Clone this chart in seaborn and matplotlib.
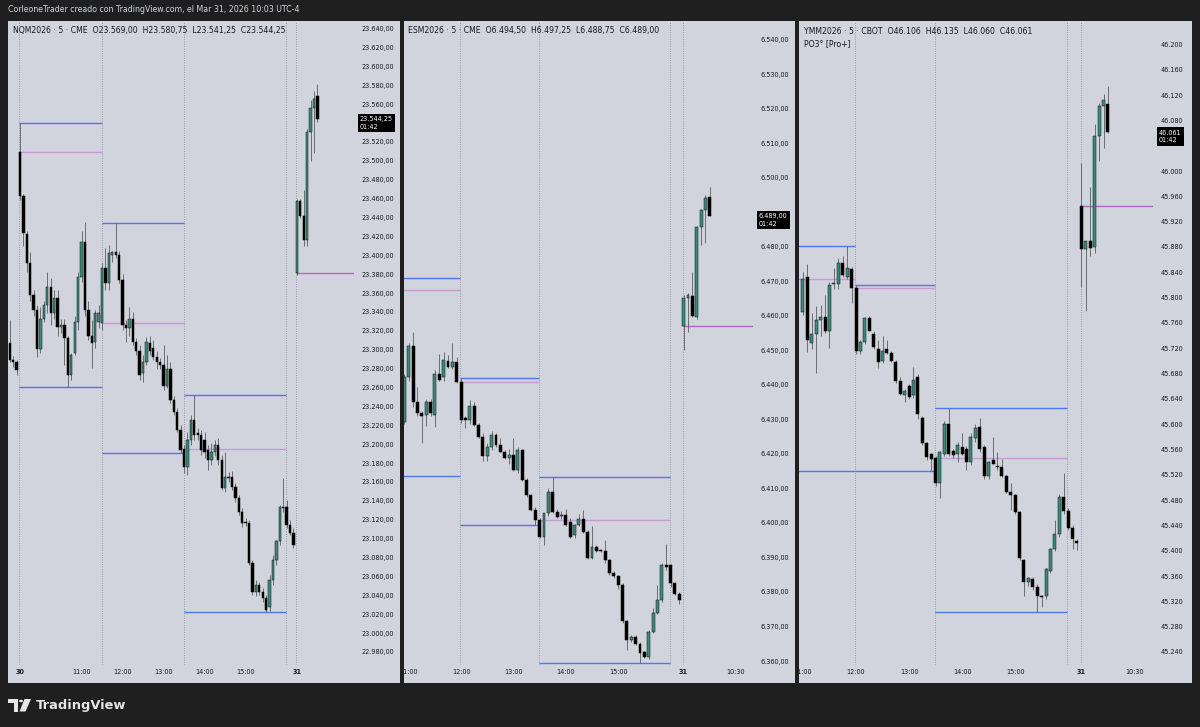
import numpy as np
import pandas as pd
import matplotlib
matplotlib.use("Agg")
import matplotlib.pyplot as plt
import matplotlib.transforms as mtransforms
from matplotlib.patches import Rectangle, Circle, Polygon
from matplotlib.ticker import FixedLocator, FuncFormatter
import seaborn as sns

# ---------------------------------------------------------------- data
# bar numbers: 0 = 09:30 bar of Mar 30, 81 = 09:30 bar of Mar 31 (5-minute bars, RTH)
header_text = "CorleoneTrader creado con TradingView.com, el Mar 31, 2026 10:03 UTC-4"
countdown = "01:42"

# ---- NQM2026
nq_symbol = "NQM2026 · 5 · CME"
nq_first_bar = -3
nq_open = [23307, 23289, 23287,
           23509, 23463, 23423, 23392, 23358, 23342, 23301, 23333, 23347, 23366, 23339, 23355,
           23324, 23326, 23312, 23273, 23297, 23329, 23377, 23414, 23342, 23315, 23308, 23329,
           23328, 23386, 23371, 23400, 23403, 23400, 23374, 23326, 23323, 23333, 23308, 23299,
           23275, 23287, 23307, 23302, 23292, 23287, 23284, 23262, 23280, 23247, 23234, 23215,
           23195, 23176, 23204, 23226, 23212, 23210, 23204, 23194, 23183, 23192, 23199, 23183,
           23154, 23165, 23165, 23155, 23143, 23128, 23118, 23116, 23074, 23044, 23051, 23044,
           23037, 23028, 23056, 23077, 23098, 23133, 23133, 23114, 23106,
           23381, 23457, 23442, 23416, 23530, 23556, 23569.00]
nq_high = [23331, 23293, 23289,
           23540, 23465, 23426, 23403, 23363, 23347, 23345, 23352, 23382, 23376, 23363, 23363,
           23333, 23333, 23315, 23297, 23336, 23382, 23426, 23435, 23352, 23331, 23342, 23347,
           23392, 23408, 23411, 23405, 23434, 23405, 23380, 23331, 23345, 23340, 23312, 23305,
           23294, 23313, 23314, 23310, 23299, 23291, 23305, 23294, 23287, 23251, 23238, 23220,
           23199, 23213, 23231, 23252, 23217, 23215, 23213, 23199, 23201, 23204, 23207, 23188,
           23192, 23170, 23172, 23159, 23146, 23132, 23122, 23120, 23077, 23056, 23054, 23048,
           23040, 23061, 23083, 23099, 23136, 23164, 23141, 23120, 23111,
           23460, 23460, 23469, 23534, 23564, 23574, 23580.75]
nq_low = [23287, 23282, 23273,
          23458, 23410, 23382, 23352, 23336, 23292, 23296, 23329, 23339, 23326, 23333, 23315,
          23318, 23284, 23260.25, 23268, 23294, 23321, 23372, 23336, 23310, 23281, 23302, 23323,
          23321, 23363, 23363, 23393, 23397, 23371, 23321, 23308, 23315, 23305, 23294, 23268,
          23266, 23284, 23294, 23289, 23280, 23280, 23257, 23259, 23244, 23231, 23213, 23191,
          23169, 23167, 23199, 23204, 23204, 23188, 23185, 23173, 23178, 23187, 23178, 23151,
          23149, 23160, 23151, 23139, 23125, 23112, 23113, 23072, 23040, 23039, 23040, 23033,
          23022.25, 23023, 23051, 23072, 23093, 23128, 23111, 23104, 23090,
          23379, 23439, 23410, 23410, 23500, 23508, 23541.25]
nq_close = [23289, 23287, 23278,
            23463, 23424, 23392, 23358, 23342, 23301, 23333, 23347, 23366, 23339, 23355, 23324,
            23326, 23312, 23273, 23294, 23329, 23377, 23414, 23342, 23315, 23307, 23339, 23339,
            23386, 23371, 23402, 23403, 23400, 23374, 23326, 23323, 23333, 23308, 23299, 23273,
            23287, 23308, 23299, 23292, 23287, 23284, 23262, 23280, 23247, 23234, 23215, 23194,
            23176, 23204, 23226, 23210, 23210, 23194, 23192, 23183, 23192, 23199, 23183, 23154,
            23165, 23164, 23155, 23143, 23128, 23116, 23116, 23074, 23044, 23051, 23044, 23037,
            23024, 23056, 23077, 23098, 23133, 23132, 23114, 23106, 23093,
            23457, 23442, 23416, 23530, 23556, 23565, 23544.25]
nq_range_from = [0, 24, 48]
nq_range_to = [24, 48, 78]
nq_range_high = [23540, 23434, 23252]
nq_range_open = [23509, 23328, 23195]
nq_range_low = [23260.25, 23191, 23022.25]
nq_day_open = 23381
nq_separators = [0, 24, 48, 78, 81]
nq_time_bars = [0, 18, 30, 42, 54, 66, 81]
nq_time_labels = ["30", "11:00", "12:00", "13:00", "14:00", "15:00", "31"]
nq_price_ticks = list(range(22980, 23641, 20))

# ---- ESM2026
es_symbol = "ESM2026 · 5 · CME"
es_first_bar = 17
es_open = [6429.25, 6442.25, 6451.25, 6435, 6431.75, 6431.25, 6435, 6431.25, 6443.25, 6442.25,
           6447, 6445.25, 6446.5, 6440.75, 6430.25, 6429.75, 6434, 6428.25, 6425, 6419.25,
           6422, 6425.5, 6422.5, 6420.5, 6418.75, 6419.75, 6415.25, 6421, 6412.5, 6408,
           6403.75, 6400.75, 6396, 6402.75, 6409, 6403.25, 6402, 6402.25, 6400.25, 6396.5,
           6399.5, 6401.25, 6397.5, 6389.75, 6393, 6392, 6392, 6389.25, 6385.5, 6384.5,
           6382, 6371.5, 6366, 6367, 6365, 6362.5, 6361.25, 6368.5, 6374, 6377.75,
           6387.75, 6387.75, 6382.5, 6379.5,
           6457, 6465, 6465.75, 6459.75, 6485.75, 6490.75, 6494.50]
es_high = [6443, 6452, 6455.25, 6439.5, 6432.5, 6436, 6436, 6444.25, 6449, 6449.5,
           6448.5, 6452, 6448, 6442, 6431, 6435.5, 6435, 6429, 6426, 6423,
           6426.5, 6426, 6424.5, 6421, 6421.5, 6424.5, 6422, 6421.5, 6413, 6408.5,
           6404.5, 6401.5, 6403, 6410, 6413.25, 6404, 6403.5, 6404, 6401.5, 6399.75,
           6402.5, 6403.75, 6398, 6399, 6393.5, 6392.5, 6395, 6389.5, 6386, 6385,
           6382.5, 6372, 6367.5, 6367.5, 6365.5, 6363, 6369, 6375.5, 6382, 6388.5,
           6394, 6388, 6383, 6380,
           6466, 6466.5, 6472.75, 6486, 6491, 6495, 6497.25]
es_low = [6428.5, 6441, 6433.5, 6431, 6423, 6428, 6431, 6427.75, 6441, 6441,
          6445, 6444.5, 6440.5, 6429, 6427.5, 6428.5, 6428, 6424.5, 6418, 6418,
          6421, 6422, 6420.5, 6418.5, 6417, 6415, 6414.5, 6412, 6407.5, 6403.5,
          6399.25, 6395.5, 6393.5, 6402, 6403, 6401.5, 6401, 6399, 6395.5, 6395.5,
          6399, 6397, 6389.5, 6389.5, 6391.5, 6391.5, 6388.5, 6385, 6384, 6381,
          6371, 6363.25, 6365.5, 6364.5, 6359.5, 6361, 6360.5, 6368, 6373.5, 6377,
          6386.5, 6381.5, 6379, 6376.5,
          6450, 6455.25, 6459.5, 6459, 6480.5, 6481, 6488.75]
es_close = [6442.25, 6451.25, 6435, 6431.75, 6431, 6435, 6431.75, 6443, 6441.25, 6447.25,
            6445.25, 6446.5, 6440.75, 6429.75, 6429.75, 6434, 6428.25, 6425, 6419.25, 6422,
            6425.5, 6422.5, 6420.5, 6418.75, 6419.75, 6415.25, 6421, 6412.5, 6408, 6403.75,
            6400.75, 6396, 6402.75, 6409, 6403.25, 6401.75, 6402.25, 6399.5, 6396, 6399.5,
            6401.25, 6397.5, 6389.75, 6393, 6392, 6391.75, 6389.25, 6385.5, 6384.5, 6382,
            6371.5, 6366, 6367, 6365, 6362.25, 6361.25, 6368.5, 6374, 6377.75, 6387.75,
            6387.25, 6382.5, 6379.5, 6377.75,
            6465, 6466, 6460, 6485.75, 6490.75, 6494, 6489.00]
es_range_from = [0, 30, 48]
es_range_to = [30, 48, 78]
es_range_high = [6471, 6442, 6413.25]
es_range_open = [6467.5, 6440.75, 6400.75]
es_range_low = [6413.5, 6399.25, 6359.5]
es_day_open = 6457
es_separators = [30, 48, 78, 81]
es_time_bars = [18, 30, 42, 54, 66, 81, 93]
es_time_labels = ["11:00", "12:00", "13:00", "14:00", "15:00", "31", "10:30"]
es_price_ticks = list(range(6360, 6541, 10))

# ---- YMM2026
ym_symbol = "YMM2026 · 5 · CBOT"
ym_first_bar = 18
ym_open = [45778, 45832, 45729, 45742, 45764, 45769, 45748, 45821, 45822, 45855,
           45833, 45845, 45815, 45716, 45730, 45768, 45743, 45719, 45700, 45719,
           45713, 45698, 45668, 45646, 45660, 45646, 45675, 45610, 45570, 45553,
           45547, 45507, 45553, 45600, 45557, 45553, 45564, 45561, 45540, 45578,
           45596, 45564, 45518, 45543, 45533, 45533, 45518, 45493, 45488, 45461,
           45385, 45350, 45355, 45343, 45328, 45328, 45368, 45403, 45427, 45485,
           45463, 45436, 45416,
           45945, 45877, 45889, 45880, 46056, 46103, 46106]
ym_high = [45841, 45853, 45776, 45787, 45788, 45804, 45825, 45846, 45863, 45865,
           45881, 45849, 45820, 45733, 45770, 45771, 45747, 45733, 45740, 45733,
           45716, 45701, 45675, 45656, 45663, 45691, 45680, 45613, 45572, 45555,
           45549, 45557, 45605, 45626, 45561, 45572, 45586, 45566, 45586, 45600,
           45610, 45567, 45541, 45580, 45556, 45545, 45520, 45507, 45490, 45463,
           45387, 45358, 45358, 45347, 45330, 45373, 45404, 45448, 45489, 45523,
           45468, 45440, 45418,
           46013, 45890, 45975, 46075, 46107, 46121, 46135]
ym_low = [45773, 45714, 45718, 45681, 45739, 45744, 45721, 45814, 45813, 45833,
          45830, 45791, 45711, 45711, 45727, 45747, 45719, 45689, 45696, 45711,
          45698, 45665, 45646, 45635, 45639, 45642, 45608, 45567, 45543, 45526,
          45502, 45483, 45549, 45549, 45546, 45540, 45551, 45528, 45535, 45572,
          45556, 45513, 45513, 45537, 45528, 45516, 45492, 45464, 45458, 45385,
          45328, 45345, 45338, 45303, 45311, 45324, 45365, 45400, 45422, 45458,
          45432, 45403, 45401,
          45817, 45779, 45866, 45871, 46016, 46037, 46060]
ym_close = [45829, 45733, 45742, 45764, 45769, 45748, 45820, 45822, 45855, 45836,
            45846, 45815, 45716, 45730, 45768, 45748, 45722, 45698, 45716, 45713,
            45700, 45668, 45648, 45653, 45643, 45670, 45616, 45570, 45548, 45545,
            45507, 45556, 45600, 45553, 45551, 45567, 45553, 45540, 45580, 45594,
            45561, 45518, 45540, 45537, 45532, 45518, 45493, 45488, 45461, 45388,
            45350, 45357, 45343, 45328, 45327, 45371, 45403, 45427, 45485, 45463,
            45436, 45418, 45412,
            45877, 45890, 45878, 46056, 46103, 46112, 46061]
ym_range_from = [0, 30, 48]
ym_range_to = [30, 48, 78]
ym_range_high = [45881, 45820, 45626]
ym_range_open = [45829, 45815, 45547]
ym_range_low = [45526, 45526, 45303]
ym_day_open = 45945
ym_separators = [30, 48, 78, 81]
ym_time_bars = [18, 30, 42, 54, 66, 81, 93]
ym_time_labels = ["11:00", "12:00", "13:00", "14:00", "15:00", "31", "10:30"]
ym_price_ticks = list(range(45240, 46201, 40))

# ---------------------------------------------------------------- style
sns.set_theme(style="white")
plt.rcParams['font.family'] = ['DejaVu Sans']

W, H = 1200, 727
DARK = '#1f1f1f'
PANEL = '#d1d4dc'
TXT = '#131722'
BULL = '#3b8a7b'
BEAR = '#000000'
WICK = '#5a5c63'
BLUE = '#4f78f0'
PINK = '#c99ad6'
DAYPINK = '#b664c6'
SEP = '#8c8f98'
FS = 4.7
AX_H_PX = 665 - 20.5

fig = plt.figure(figsize=(W / 100, H / 100), dpi=100, facecolor=DARK)


def eu(v, dec):
    s = f"{v:,.{dec}f}"
    return s.replace(",", "#").replace(".", ",").replace("#", ".")


def frame(px0, py0, px1, py1):
    return [px0 / W, 1 - py1 / H, (px1 - px0) / W, (py1 - py0) / H]


panels = [
    dict(sym=nq_symbol, first=nq_first_bar, o=nq_open, h=nq_high, l=nq_low, c=nq_close,
         rf=nq_range_from, rt=nq_range_to, rh=nq_range_high, ro=nq_range_open, rl=nq_range_low,
         day=nq_day_open, seps=nq_separators, tb=nq_time_bars, tl=nq_time_labels,
         pt=nq_price_ticks, dec=2, bg=(8, 20.5, 400, 683), plot=(8, 20.5, 354, 665),
         xlim=(-3.5, 97.7), ylim=(22966.2, 23648.5), extra=None),
    dict(sym=es_symbol, first=es_first_bar, o=es_open, h=es_high, l=es_low, c=es_close,
         rf=es_range_from, rt=es_range_to, rh=es_range_high, ro=es_range_open, rl=es_range_low,
         day=es_day_open, seps=es_separators, tb=es_time_bars, tl=es_time_labels,
         pt=es_price_ticks, dec=2, bg=(403.5, 20.5, 795, 683), plot=(403.5, 20.5, 753, 665),
         xlim=(16.8, 96.9), ylim=(6358.85, 6545.5), extra=None),
    dict(sym=ym_symbol, first=ym_first_bar, o=ym_open, h=ym_high, l=ym_low, c=ym_close,
         rf=ym_range_from, rt=ym_range_to, rh=ym_range_high, ro=ym_range_open, rl=ym_range_low,
         day=ym_day_open, seps=ym_separators, tb=ym_time_bars, tl=ym_time_labels,
         pt=ym_price_ticks, dec=0, bg=(799, 20.5, 1192, 683), plot=(799, 20.5, 1153, 665),
         xlim=(17.1, 97.2), ylim=(45219.4, 46237.9), extra="PO3° [Pro+]"),
]

for p in panels:
    bx0, by0, bx1, by1 = p['bg']
    bgrect = Rectangle((bx0 / W, 1 - by1 / H), (bx1 - bx0) / W, (by1 - by0) / H,
                       transform=fig.transFigure, facecolor=PANEL, edgecolor='none', zorder=-10)
    fig.patches.append(bgrect)

    ax = fig.add_axes(frame(*p['plot']))
    ax.set_facecolor(PANEL)
    for s in ax.spines.values():
        s.set_visible(False)

    df = pd.DataFrame({'open': p['o'], 'high': p['h'], 'low': p['l'], 'close': p['c']})
    df['bar'] = np.arange(p['first'], p['first'] + len(df))
    df['up'] = df['close'] >= df['open']
    span = p['ylim'][1] - p['ylim'][0]
    ppu = AX_H_PX / span
    min_body = 0.9 / ppu
    df['bottom'] = df[['open', 'close']].min(axis=1)
    df['size'] = (df['close'] - df['open']).abs().clip(lower=min_body)

    # session separators
    for sbar in p['seps']:
        ax.axvline(sbar - 0.15, color=SEP, lw=0.6, ls=(0, (1.2, 1.6)), zorder=1)

    # range levels
    for f_, t_, hi, op, lo in zip(p['rf'], p['rt'], p['rh'], p['ro'], p['rl']):
        ax.hlines([hi, lo], f_ - 0.15, t_ - 0.15, colors=BLUE, lw=1.0, zorder=1.5)
        ax.hlines(op, f_ - 0.15, t_ - 0.15, colors=PINK, lw=1.0, zorder=1.5)
    ax.hlines(p['day'], 81 - 0.15, 400, colors=DAYPINK, lw=1.0, zorder=1.5)

    # candles
    ax.vlines(df['bar'], df['low'], df['high'], color=WICK, lw=0.6, zorder=2)
    up = df[df['up']]
    dn = df[~df['up']]
    ax.bar(up['bar'], up['size'], bottom=up['bottom'], width=0.68, color=BULL,
           edgecolor='#111111', linewidth=0.35, zorder=3)
    ax.bar(dn['bar'], dn['size'], bottom=dn['bottom'], width=0.68, color=BEAR,
           edgecolor=BEAR, linewidth=0.35, zorder=3)

    ax.set_xlim(*p['xlim'])
    ax.set_ylim(*p['ylim'])

    last = df.iloc[-1]
    dec = p['dec']

    # price axis (labels hidden behind the last-price box are skipped, as in TradingView)
    ticks = [t for t in p['pt'] if not (-8.5 < (last['close'] - t) * ppu < 17.0)]
    ax.yaxis.tick_right()
    ax.yaxis.set_major_locator(FixedLocator(ticks))
    ax.yaxis.set_major_formatter(FuncFormatter(lambda v, pos, d=dec: eu(v, d)))
    ax.tick_params(axis='y', length=0, pad=5.2, labelsize=FS, labelcolor=TXT)

    # time axis
    ax.xaxis.set_major_locator(FixedLocator(p['tb']))
    ax.set_xticklabels(p['tl'])
    ax.tick_params(axis='x', length=0, pad=2.6, labelsize=FS, labelcolor=TXT)
    for tk, lab in zip(ax.xaxis.get_major_ticks(), p['tl']):
        tk.label1.set_clip_path(bgrect)
        if lab in ("30", "31"):
            tk.label1.set_fontweight('bold')
    ax.grid(False)

    # last-price box
    trans = mtransforms.blended_transform_factory(ax.transAxes, ax.transData)
    ax.annotate(f"{eu(last['close'], dec)}\n{countdown}", xy=(1.0, last['close']), xycoords=trans,
                xytext=(4.2, -3.0), textcoords='offset points', ha='left', va='center',
                fontsize=FS, color='white', linespacing=1.35, annotation_clip=False,
                bbox=dict(boxstyle='square,pad=0.35', fc='black', ec='none'), zorder=10)

    # symbol / OHLC header
    title = (f"{p['sym']}  O{eu(last['open'], dec)}  H{eu(last['high'], dec)}  "
             f"L{eu(last['low'], dec)}  C{eu(last['close'], dec)}")
    fig.text((bx0 + 5) / W, 1 - 31 / H, title, fontsize=5.55, color=TXT, ha='left', va='center')
    if p['extra']:
        fig.text((bx0 + 5) / W, 1 - 44 / H, p['extra'], fontsize=5.55, color=TXT,
                 ha='left', va='center')

# top header
fig.text(8 / W, 1 - 10 / H, header_text, fontsize=5.65, color='#d1d4dc', ha='left', va='center')

# TradingView logo + wordmark
def fpt(x, y):
    return (x / W, 1 - y / H)

logo_col = '#e6e6e6'
fig.patches.append(Polygon([fpt(8, 699), fpt(17.5, 699), fpt(17.5, 711.5), fpt(13.5, 711.5),
                            fpt(13.5, 703), fpt(8, 703)], closed=True, transform=fig.transFigure,
                           facecolor=logo_col, edgecolor='none'))
fig.patches.append(Circle(fpt(21, 701), 2.0 / W, transform=fig.transFigure,
                          facecolor=logo_col, edgecolor='none'))
fig.patches.append(Polygon([fpt(24.5, 699), fpt(31, 699), fpt(25.5, 711.5), fpt(19.5, 711.5)],
                           closed=True, transform=fig.transFigure, facecolor=logo_col,
                           edgecolor='none'))
fig.text(36 / W, 1 - 705.5 / H, "TradingView", fontsize=9.4, color=logo_col, ha='left',
         va='center', fontweight='bold')

fig.savefig("out.png", dpi=100, facecolor=DARK)
